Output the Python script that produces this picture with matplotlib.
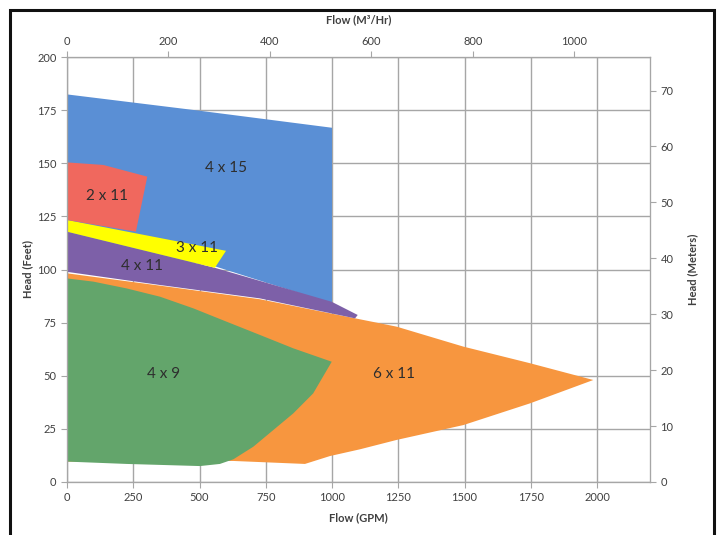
import matplotlib.pyplot as plt
from matplotlib.patches import Polygon, Rectangle

plt.rcParams['font.family'] = ['Lato', 'DejaVu Sans']

# coverage areas, flow in GPM and head in feet
blue_gpm = [0, 495, 1000, 1000, 558, 0]
blue_ft = [182.4, 174.8, 166.7, 84, 101.5, 112]

orange_gpm = [0, 351, 728, 992, 1244, 1496, 1747, 1986,
              1747, 1496, 1244, 1106, 992, 898, 628, 0]
orange_ft = [98.2, 92.4, 86, 79.4, 73.1, 63.7, 55.9, 48,
             37, 26.8, 19.8, 15.4, 12.2, 8.5, 9.9, 9.6]

green_gpm = [0, 99, 225, 351, 477, 603, 728, 854, 999,
             929, 854, 779, 703, 628, 577, 502, 225, 0]
green_ft = [95.8, 94.3, 91.1, 87.2, 81.7, 75.4, 69.2, 62.9, 56.6,
            41.7, 32.3, 24.5, 16.6, 10.7, 8.5, 7.5, 8.5, 9.6]

purple_gpm = [0, 558, 999, 1097, 1087, 728, 351, 0]
purple_ft = [117.8, 100.8, 84.8, 78.6, 77, 86.4, 92.7, 98.9]

yellow_gpm = [0, 600, 558, 0]
yellow_ft = [123.3, 108.8, 100.8, 117.8]

red_gpm = [0, 137, 303, 260, 0]
red_ft = [150.4, 149.2, 143.7, 117.8, 123.3]

regions = [
    ('4 x 15', blue_gpm, blue_ft, '#5a8fd5', 599, 148),
    ('6 x 11', orange_gpm, orange_ft, '#f7963f', 1234, 50.8),
    ('4 x 9', green_gpm, green_ft, '#63a56b', 366, 50.8),
    ('4 x 11', purple_gpm, purple_ft, '#7d60a8', 282, 101.8),
    ('3 x 11', yellow_gpm, yellow_ft, '#ffff00', 492, 110),
    ('2 x 11', red_gpm, red_ft, '#f0685e', 150, 134.7),
]

gpm_ticks = [0, 250, 500, 750, 1000, 1250, 1500, 1750, 2000]
ft_ticks = [0, 25, 50, 75, 100, 125, 150, 175, 200]
m3h_ticks = [0, 200, 400, 600, 800, 1000]
m_ticks = [0, 10, 20, 30, 40, 50, 60, 70]

grey = '#a6a6a6'
txt = '#404040'

fig = plt.figure(figsize=(7.2, 5.35), dpi=100)
ax = fig.add_axes([67 / 720, 53 / 535, 583 / 720, 425 / 535])

for name, xs, ys, col, lx, ly in regions:
    ax.add_patch(Polygon(list(zip(xs, ys)), closed=True, facecolor=col,
                         edgecolor='none', zorder=2))
    ax.text(lx, ly, name, ha='center', va='center', fontsize=11,
            color='#2e2e2e', zorder=3)

ax.set_xlim(0, 2200)
ax.set_ylim(0, 200)
ax.set_xticks(gpm_ticks)
ax.set_yticks(ft_ticks)
ax.grid(True, color=grey, linewidth=1, zorder=0)
ax.set_axisbelow(True)
ax.tick_params(colors=grey, labelcolor=txt, labelsize=8, length=4)
for s in ax.spines.values():
    s.set_color(grey)
ax.set_xlabel('Flow (GPM)', fontsize=8, fontweight='bold', color=txt, labelpad=6)
ax.set_ylabel('Head (Feet)', fontsize=8, fontweight='bold', color=txt, labelpad=3)

top = ax.twiny()
top.set_xlim(0, 1149)
top.set_xticks(m3h_ticks)
top.tick_params(colors=grey, labelcolor=txt, labelsize=8, length=4)
top.set_xlabel('Flow (M\u00b3/Hr)', fontsize=8, fontweight='bold', color=txt, labelpad=9)

right = ax.twinx()
right.set_ylim(0, 76)
right.set_yticks(m_ticks)
right.tick_params(colors=grey, labelcolor=txt, labelsize=8, length=4)
right.set_ylabel('Head (Meters)', fontsize=8, fontweight='bold', color=txt, labelpad=10)
for a in (top, right):
    for s in a.spines.values():
        s.set_color(grey)

# black frame around the whole picture, its bottom edge is cut off
fig.patches.append(Rectangle((10 / 720, -0.05), 704 / 720, 1.05 - 10 / 535,
                             transform=fig.transFigure, fill=False,
                             edgecolor='#111111', linewidth=2.2))

fig.savefig('out.png', dpi=100)
